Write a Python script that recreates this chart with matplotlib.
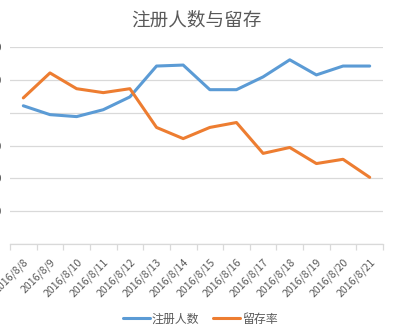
import matplotlib
matplotlib.use("Agg")
import matplotlib.pyplot as plt
from matplotlib.ticker import FixedLocator, NullFormatter

plt.rcParams['font.family'] = ['Noto Sans CJK SC', 'DejaVu Sans']

dates = ["2016/8/8", "2016/8/9", "2016/8/10", "2016/8/11", "2016/8/12", "2016/8/13",
         "2016/8/14", "2016/8/15", "2016/8/16", "2016/8/17", "2016/8/18", "2016/8/19",
         "2016/8/20", "2016/8/21"]
registrations = [421, 394, 388, 409, 448, 542, 545, 470, 470, 509, 561, 515, 542, 542]
retention = [445, 521, 473, 461, 473, 355, 321, 355, 370, 276, 294, 245, 258, 203]
y_ticks = [0, 100, 200, 300, 400, 500, 600]

title = "注册人数与留存"
series_names = ["注册人数", "留存率"]
blue = "#5B9BD5"
orange = "#ED7D31"
grid_c = "#D9D9D9"
text_c = "#595959"

fig = plt.figure(figsize=(3.93, 3.33), dpi=100)
ax = fig.add_axes([10/393, 1-244/333, 373/393, 197/333])

n = len(dates)
xs = list(range(n))
ax.plot(xs, registrations, color=blue, lw=2.2, label=series_names[0], solid_capstyle='round')
ax.plot(xs, retention, color=orange, lw=2.2, label=series_names[1], solid_capstyle='round')

ax.set_xlim(-0.5, n - 0.5)
ax.set_ylim(0, 600)
ax.set_yticks(y_ticks)
ax.set_yticklabels(["" if v == 0 else str(v) for v in y_ticks], color=text_c, fontsize=8)
ax.tick_params(axis='y', length=0, pad=6)
ax.grid(axis='y', color=grid_c, lw=0.9)
ax.set_axisbelow(True)

ax.set_xticks(xs)
ax.set_xticklabels(dates, rotation=45, ha='right', va='top', rotation_mode='anchor',
                   fontsize=7.6, color=text_c)
ax.tick_params(axis='x', length=0, pad=9)
ax.xaxis.set_minor_locator(FixedLocator([i - 0.5 for i in range(n + 1)]))
ax.xaxis.set_minor_formatter(NullFormatter())
ax.tick_params(axis='x', which='minor', length=4, color=grid_c, width=0.9)

for s in ['top', 'right', 'left']:
    ax.spines[s].set_visible(False)
ax.spines['bottom'].set_color(grid_c)
ax.spines['bottom'].set_linewidth(0.9)

fig.text(0.5, 1-20/333, title, ha='center', va='center', fontsize=13.4, color=text_c)

leg = fig.legend(loc='center', bbox_to_anchor=(200/393, 1-319/333), ncol=2, frameon=False,
                 fontsize=8.6, handlelength=2.3, handletextpad=0.15, columnspacing=1.1,
                 labelcolor=text_c)

fig.savefig("out.png", dpi=100, facecolor='white')
